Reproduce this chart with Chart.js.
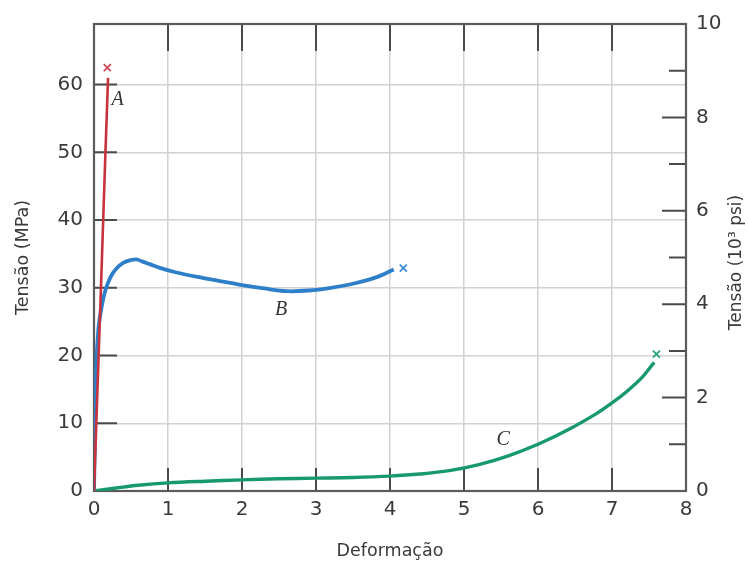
<!DOCTYPE html>
<html><head><meta charset="utf-8">
<script src="https://cdn.jsdelivr.net/npm/chart.js@4/dist/chart.umd.min.js"></script>
<style>html,body{margin:0;padding:0;background:#fff}#wrap{width:749px;height:565px}</style>
</head><body><div id="wrap"><canvas id="c" width="749" height="565"></canvas></div>
<script>
// ---- data ----
const xTickLabels = [0, 1, 2, 3, 4, 5, 6, 7, 8];
const mpaTicks = [0, 10, 20, 30, 40, 50, 60];
const psiTicks = [0, 2, 4, 6, 8, 10];
const psiMinorTicks = [1, 3, 5, 7, 9];
const MPA_PER_KSI = 6.894757;

const strainA = [0, 0.05, 0.1, 0.15, 0.19];
const stressA = [0, 16, 32, 48.5, 61];

const strainB = [0, 0.03, 0.06, 0.1, 0.15, 0.22, 0.3, 0.4, 0.5, 0.57, 0.65, 0.75, 0.9, 1.1, 1.4, 1.7, 2.0, 2.3, 2.6, 2.9, 3.2, 3.5, 3.8, 4.05];
const stressB = [0, 18, 24, 27, 29.5, 31.5, 32.8, 33.7, 34.1, 34.2, 33.9, 33.5, 32.9, 32.3, 31.6, 31.0, 30.4, 29.9, 29.5, 29.6, 30.0, 30.6, 31.5, 32.7];

const strainC = [0, 0.3, 0.6, 1.0, 1.5, 2.0, 2.5, 3.0, 3.5, 4.0, 4.4, 4.8, 5.2, 5.6, 6.0, 6.4, 6.8, 7.0, 7.2, 7.4, 7.57];
const stressC = [0, 0.45, 0.85, 1.2, 1.45, 1.65, 1.8, 1.9, 2.0, 2.2, 2.5, 3.0, 3.9, 5.2, 6.9, 9.0, 11.5, 13.0, 14.7, 16.7, 19.0];

const fractureStrain = [0.18, 4.18, 7.6];
const fractureStress = [62.5, 32.9, 20.2];

const curveNames = ['A', 'B', 'C'];
const labelStrain = [0.32, 2.53, 5.53];
const labelStress = [57.7, 26.8, 7.5];

const curveColors = ['#c8323c', '#2e7fc9', '#17996e'];
const markerColors = ['#d04a56', '#3f8fd6', '#2aa27c'];

// ---- helpers ----
const pts = (xs, ys) => xs.map((x, i) => ({x, y: ys[i]}));
const TXT = '#3a3a3a';
const FONT = '"DejaVu Sans", sans-serif';

const decorPlugin = {
  id: 'decor',
  beforeDatasetsDraw(chart) {
    const {ctx, chartArea: a, scales} = chart;
    const xs = scales.x, ys = scales.y, y2 = scales.y2;
    ctx.save();
    ctx.strokeStyle = '#4a4a4a';
    ctx.lineWidth = 2;
    ctx.beginPath();
    xTickLabels.forEach(v => {
      if (v === xTickLabels[0] || v === xTickLabels[xTickLabels.length - 1]) return;
      const px = xs.getPixelForValue(v);
      ctx.moveTo(px, a.bottom); ctx.lineTo(px, a.bottom - 23);
      ctx.moveTo(px, a.top); ctx.lineTo(px, a.top + 27);
    });
    mpaTicks.forEach(v => {
      if (v === 0) return;
      const py = ys.getPixelForValue(v);
      ctx.moveTo(a.left, py); ctx.lineTo(a.left + 23, py);
    });
    psiTicks.forEach(v => {
      if (v === psiTicks[0] || v === psiTicks[psiTicks.length - 1]) return;
      const py = y2.getPixelForValue(v);
      ctx.moveTo(a.right, py); ctx.lineTo(a.right - 24, py);
    });
    psiMinorTicks.forEach(v => {
      const py = y2.getPixelForValue(v);
      ctx.moveTo(a.right, py); ctx.lineTo(a.right - 17, py);
    });
    ctx.stroke();
    ctx.strokeStyle = '#5a5a5a';
    ctx.lineWidth = 2.2;
    ctx.strokeRect(a.left, a.top, a.right - a.left, a.bottom - a.top);
    ctx.restore();
  },
  afterDatasetsDraw(chart) {
    const {ctx, chartArea: a, scales} = chart;
    ctx.save();
    ctx.fillStyle = '#333';
    ctx.font = 'italic 20px "Liberation Serif", serif';
    ctx.textAlign = 'center';
    ctx.textBaseline = 'middle';
    curveNames.forEach((n, i) => {
      ctx.fillText(n, scales.x.getPixelForValue(labelStrain[i]), scales.y.getPixelForValue(labelStress[i]));
    });
    // right axis title, reading bottom-to-top
    ctx.fillStyle = TXT;
    ctx.font = '17px ' + FONT;
    ctx.translate(737, (a.top + a.bottom) / 2 + 5);
    ctx.rotate(-Math.PI / 2);
    ctx.fillText('Tensão (10³ psi)', 0, 0);
    ctx.restore();
  }
};

new Chart(document.getElementById('c'), {
  type: 'scatter',
  data: {
    datasets: [
      {label: 'A', data: pts(strainA, stressA), showLine: true, borderColor: curveColors[0], borderWidth: 2.6, pointRadius: 0, tension: 0, yAxisID: 'y'},
      {label: 'B', data: pts(strainB, stressB), showLine: true, borderColor: curveColors[1], borderWidth: 3.8, pointRadius: 0, tension: 0.35, yAxisID: 'y'},
      {label: 'C', data: pts(strainC, stressC), showLine: true, borderColor: curveColors[2], borderWidth: 3.4, pointRadius: 0, tension: 0.35, yAxisID: 'y'},
      {label: 'fratura', data: pts(fractureStrain, fractureStress), showLine: false, pointStyle: 'crossRot', pointRadius: 5, pointBorderWidth: 1.8, pointBorderColor: markerColors, yAxisID: 'y'}
    ]
  },
  options: {
    responsive: false,
    animation: false,
    devicePixelRatio: 1,
    layout: {padding: {top: 24, left: 0, right: 0, bottom: 0}},
    plugins: {legend: {display: false}, tooltip: {enabled: false}},
    scales: {
      x: {
        type: 'linear', min: 0, max: 8,
        afterBuildTicks: s => { s.ticks = xTickLabels.map(v => ({value: v})); },
        afterFit: s => { s.height = 74; },
        grid: {color: '#d2d2d2', lineWidth: 1.5, drawTicks: false},
        border: {display: false},
        ticks: {color: TXT, font: {family: FONT, size: 20}, padding: 7, maxRotation: 0},
        title: {display: true, text: 'Deformação', color: TXT, font: {family: FONT, size: 17.5}, padding: {top: 0, bottom: 3}}
      },
      y: {
        type: 'linear', position: 'left', min: 0, max: 10 * MPA_PER_KSI,
        afterBuildTicks: s => { s.ticks = mpaTicks.map(v => ({value: v})); },
        afterFit: s => { s.width = 94; },
        grid: {color: '#d2d2d2', lineWidth: 1.5, drawTicks: false},
        border: {display: false},
        ticks: {color: TXT, font: {family: FONT, size: 20}, padding: 11},
        title: {display: true, text: 'Tensão (MPa)', color: TXT, font: {family: FONT, size: 17.5}, padding: {top: 13, bottom: 0}}
      },
      y2: {
        type: 'linear', position: 'right', min: 0, max: 10,
        afterBuildTicks: s => { s.ticks = psiTicks.map(v => ({value: v})); },
        afterFit: s => { s.width = 63; },
        grid: {display: false, drawTicks: false},
        border: {display: false},
        ticks: {color: TXT, font: {family: FONT, size: 20}, padding: 10}
      }
    }
  },
  plugins: [decorPlugin]
});
</script></body></html>
